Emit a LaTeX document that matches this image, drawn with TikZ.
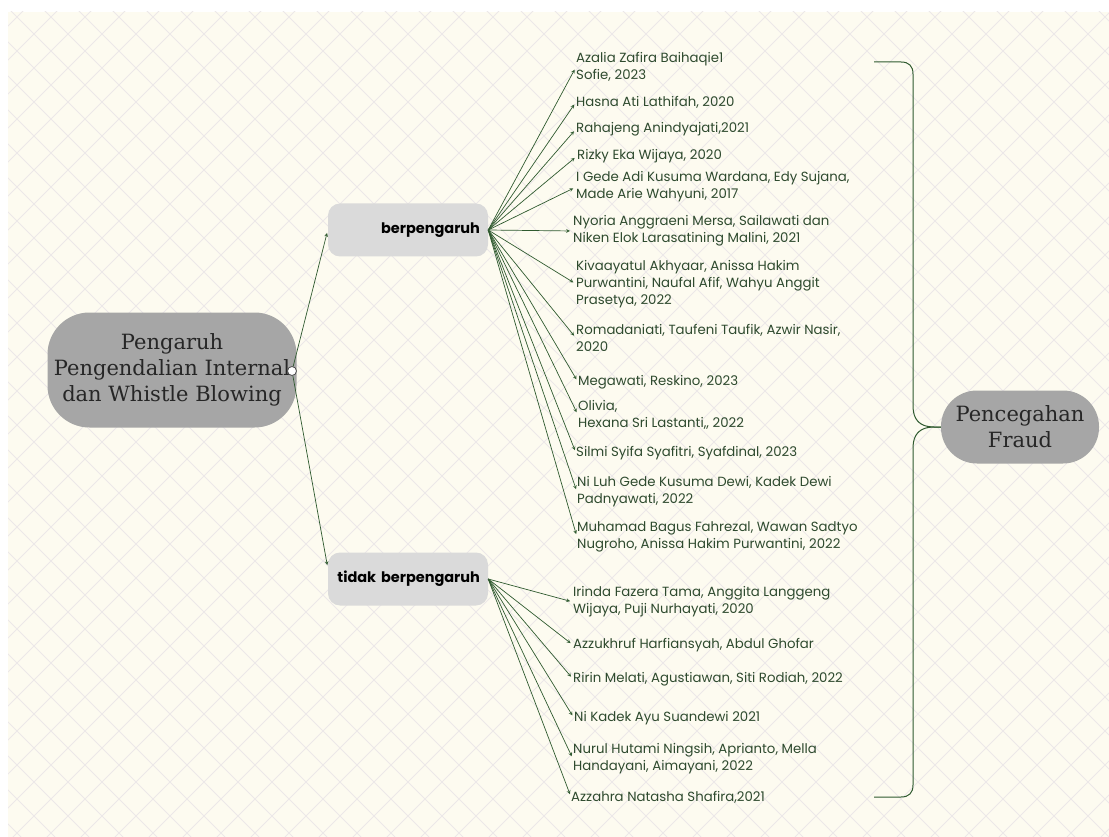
\documentclass[tikz,border=0pt]{standalone}
\usepackage{fontspec}
\setmainfont{DejaVu Serif}
\newfontfamily\listfont{Poppins}
\usetikzlibrary{arrows, positioning}

\definecolor{paper}{HTML}{FDFBF0}
\definecolor{gridline}{HTML}{ECE8E8}
\definecolor{leaf}{HTML}{2F5A2F}
\definecolor{leaftext}{HTML}{2E4A2E}
\definecolor{rootgray}{HTML}{A6A6A6}
\definecolor{taggray}{HTML}{DADADA}

\tikzset{
  root/.style={fill=rootgray, rounded corners=42pt, minimum width=249pt, minimum height=115pt,
    align=center, text=black!85, font=\fontsize{21}{26}\selectfont},
  tag/.style={fill=taggray, rounded corners=12pt, minimum height=53pt, text width=144pt,
    inner xsep=8pt, align=right, font=\listfont\bfseries\fontsize{14.5}{17}\selectfont},
  ref/.style={anchor=west, align=left, inner sep=0pt, text=leaftext,
    font=\listfont\fontsize{13.3}{17}\selectfont},
  fan/.style={->, leaf, line width=0.7pt, shorten >=3pt},
  brace/.style={leaf, line width=1pt},
}

\begin{document}
\begin{tikzpicture}[>=stealth, x=1pt, y=-1pt]
\useasboundingbox (0,0) rectangle (1109,837);
% paper
\fill[white] (0,0) rectangle (1109,837);
\fill[paper] (8,12) rectangle (1109,837);
\begin{scope}
\clip (8,12) rectangle (1109,837);
\foreach \k in {-26,...,58} {
  \draw[gridline, line width=1pt] (\k*34,0) -- ++(837,837);
  \draw[gridline, line width=1pt] (\k*34,0) -- ++(-837,837);
}
\end{scope}
%
% main nodes
\node[root] (pg) at (172,370) {Pengaruh\\Pengendalian Internal\\dan Whistle Blowing};
\node[circle, draw=black!70, fill=white, inner sep=0pt, minimum size=9pt, line width=0.8pt] (knob) at (292,371) {};
\node[tag] (bp) at (408,230) {berpengaruh};
\node[tag] (tb) at (408,579) {tidak berpengaruh};
\node[root, rounded corners=36pt, minimum width=158pt, minimum height=73pt] (pf) at (1020,427) {Pencegahan\\Fraud};
%
\draw[fan] (knob) -- (bp.west);
\draw[fan] (knob) -- ([yshift=11pt]tb.west);
%
% berpengaruh
\node[ref] (b1) at (576,67) {Azalia Zafira Baihaqie1\\Sofie, 2023};
\node[ref] (b2) at (576,102) {Hasna Ati Lathifah, 2020};
\node[ref] (b3) at (576,129) {Rahajeng Anindyajati,2021};
\node[ref] (b4) at (577,156) {Rizky Eka Wijaya, 2020};
\node[ref] (b5) at (576,187) {I Gede Adi Kusuma Wardana, Edy Sujana,\\Made Arie Wahyuni, 2017};
\node[ref] (b6) at (573,231) {Nyoria Anggraeni Mersa, Sailawati dan\\Niken Elok Larasatining Malini, 2021};
\node[ref] (b7) at (576,284) {Kivaayatul Akhyaar, Anissa Hakim\\Purwantini, Naufal Afif, Wahyu Anggit\\Prasetya, 2022};
\node[ref] (b8) at (576,338) {Romadaniati, Taufeni Taufik, Azwir Nasir,\\2020};
\node[ref] (b9) at (578,382) {Megawati, Reskino, 2023};
\node[ref] (b10) at (578,415) {Olivia,\\Hexana Sri Lastanti,, 2022};
\node[ref] (b11) at (576,453) {Silmi Syifa Syafitri, Syafdinal, 2023};
\node[ref] (b12) at (577,492) {Ni Luh Gede Kusuma Dewi, Kadek Dewi\\Padnyawati, 2022};
\node[ref] (b13) at (577,537) {Muhamad Bagus Fahrezal, Wawan Sadtyo\\Nugroho, Anissa Hakim Purwantini, 2022};
\foreach \i in {1,...,13}
  \draw[fan] (bp.east) -- (b\i.west);
%
% tidak berpengaruh
\node[ref] (t1) at (573,602) {Irinda Fazera Tama, Anggita Langgeng\\Wijaya, Puji Nurhayati, 2020};
\node[ref] (t2) at (573,645) {Azzukhruf Harfiansyah, Abdul Ghofar};
\node[ref] (t3) at (573,679) {Ririn Melati, Agustiawan, Siti Rodiah, 2022};
\node[ref] (t4) at (574,718) {Ni Kadek Ayu Suandewi 2021};
\node[ref] (t5) at (573,759) {Nurul Hutami Ningsih, Aprianto, Mella\\Handayani, Aimayani, 2022};
\node[ref] (t6) at (571,797) {Azzahra Natasha Shafira,2021};
\foreach \i in {1,...,6}
  \draw[fan] (tb.east) -- (t\i.west);
%
% bracket
\coordinate (brtop) at (874,62);
\coordinate (brbot) at (874,797);
\draw[brace] (brtop) -- (901,62) .. controls (909,62) and (913,66) .. (913,74)
  -- (913,406) .. controls (913,420) and (920,427) .. (934,427) -- (pf.west);
\draw[brace] (pf.west) -- (934,427) .. controls (920,427) and (913,434) .. (913,448)
  -- (913,785) .. controls (913,793) and (909,797) .. (901,797) -- (brbot);
\end{tikzpicture}
\end{document}
